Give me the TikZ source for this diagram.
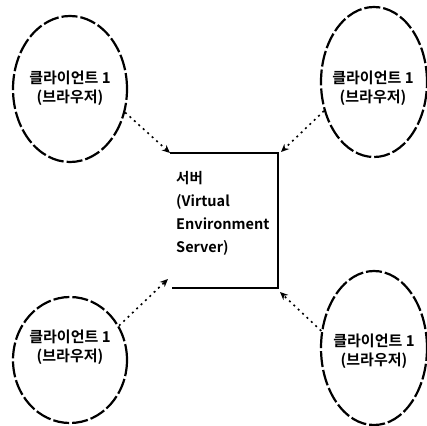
\documentclass[tikz,border=0pt]{standalone}
\usepackage{fontspec}
\setmainfont{Noto Sans CJK KR}[BoldFont={Noto Sans CJK KR Bold}]
\usetikzlibrary{shapes.geometric,arrows.meta}
\begin{document}
\begin{tikzpicture}[x=1pt,y=-1pt,
  client/.style={ellipse,draw,line width=2.2pt,dash pattern=on 16pt off 3pt,
    minimum width=#1,inner sep=0pt},
  clabel/.style={font=\bfseries\fontsize{15}{19}\selectfont,align=center},
  flow/.style={line width=1.6pt,dash pattern=on 2pt off 4pt,
    -{Stealth[length=8pt,width=7pt]}},
  boxline/.style={line width=2.6pt}]
\useasboundingbox (0,0) rectangle (427,425);
% clients
\node[client=114pt,minimum height=146pt] (tl) at (70,89) {};
\node[client=106pt,minimum height=150pt] (tr) at (374,82) {};
\node[client=114pt,minimum height=126pt] (bl) at (70,360) {};
\node[client=106pt,minimum height=154pt] (br) at (374,348) {};
\node[clabel] (tlt) at (70,88) {클라이언트 1\\(브라우저)};
\node[clabel] (trt) at (373,88) {클라이언트 1\\(브라우저)};
\node[clabel] (blt) at (70,347) {클라이언트 1\\(브라우저)};
\node[clabel] (brt) at (374,351) {클라이언트 1\\(브라우저)};
% server box
\coordinate (bTL) at (170,153);
\coordinate (bTR) at (278,153);
\coordinate (bBR) at (278,288);
\coordinate (bBL) at (172,288);
\draw[boxline] (bTL) -- (bTR) -- (bBR) -- (bBL);
\node[anchor=north west,align=left,inner sep=0pt,
  font=\bfseries\fontsize{14.5}{23}\selectfont] (srv) at (176,171)
  {서버\\(Virtual\\Environment\\Server)};
% connectors
\coordinate (aTR) at (281,152);
\coordinate (aBL) at (168,279);
\coordinate (aBR) at (280,292);
\draw[flow] (tl.-23) -- (bTL);
\draw[flow] (tr.210) -- (aTR);
\draw[flow] (bl.35) -- (aBL);
\draw[flow] (br.162) -- (aBR);
\end{tikzpicture}
\end{document}
